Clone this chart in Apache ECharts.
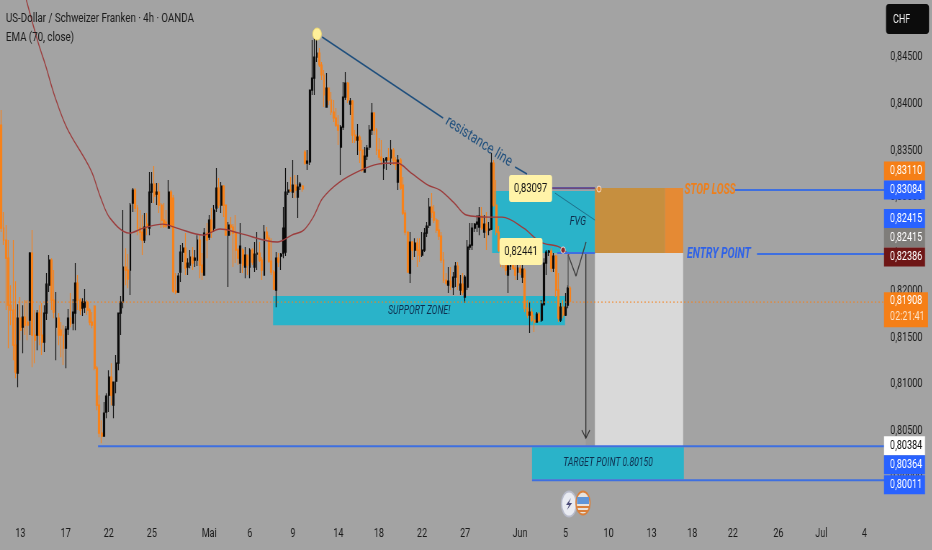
<!DOCTYPE html>
<html><head><meta charset="utf-8">
<style>html,body{margin:0;padding:0;background:#a3a3a3;overflow:hidden;width:932px;height:550px}
#c{width:1294.44px;height:550px;transform:scaleX(0.72);transform-origin:0 0}</style>
<script src="https://cdn.jsdelivr.net/npm/echarts@6/dist/echarts.min.js"></script>
</head><body><div id="c"></div>
<script>
// prices are in 1/100000 CHF. Rows: open, high, low, close
const candles=[
[83772,83933,82628,82670],[82670,82842,82489,82542],[82542,82703,81793,82349],[82349,82542,81386,81846],[81846,82060,81632,81793],
[81793,82542,81258,81418],[81418,82103,81065,81130],[81119,81857,80969,81707],[81707,81932,81472,81579],[81611,81846,81333,81718],
[81718,81900,81526,81632],[81665,81900,81472,81632],[81686,82414,81526,82403],[82403,82649,81183,81526],[81526,81793,81226,81472],
[81526,81793,81365,81761],[81761,81846,81418,81526],[81526,81868,81312,81451],[81451,81846,81344,81761],[81761,82189,81686,82071],
[82060,82382,81986,82328],[82328,82349,81793,81900],[81900,82221,81707,81772],[81611,81986,81258,81707],[81707,81761,81418,81526],
[81579,81665,81290,81526],[81526,81632,81205,81386],[81386,81622,81172,81590],[81590,81804,81526,81707],[81707,81975,81611,81643],
[81654,81911,81579,81772],[81761,82296,81579,82082],[82082,82168,81793,81900],[81900,81921,81740,81793],[81814,81921,81729,81879],
[81825,82018,81761,81879],[81879,81900,81740,81793],[81793,81814,81632,81665],[81665,81772,81600,81632],[81836,81846,81151,81172],
[81172,81194,80723,80776],[80776,80883,80434,80477],[80477,80616,80370,80445],[80445,80809,80445,80691],[80702,80905,80637,80873],
[80883,81151,80702,81076],[81076,81226,80776,80883],[80776,81023,80637,81023],[81033,81312,80905,81226],[81226,81761,81151,81761],
[81761,81943,81526,81879],[81879,82863,81814,82253],[82253,82456,82060,82221],[82221,82392,82028,82125],[82221,82938,81954,82917],
[82938,83098,82842,83077],[83077,83098,82842,82884],[82884,82917,82595,82670],[82670,82863,82542,82628],[82628,82810,82382,82542],
[82542,82831,82510,82681],[82713,82831,82595,82692],[82670,83270,82595,83056],[83056,83270,82938,83141],[83141,83334,82938,83013],
[83034,83152,82917,83056],[83056,83152,82831,82917],[82917,82938,82670,82756],[82756,82938,82670,82692],[82735,82863,82670,82692],
[82670,83184,82670,83056],[83056,83077,82670,82702],[82991,83024,81975,81996],[81996,82189,81964,81986],[81986,82189,81975,82157],
[82200,82489,82093,82414],[82414,82510,82307,82456],[82456,82617,82168,82242],[82253,82349,82168,82296],[82275,82435,82242,82360],
[82360,82467,82221,82296],[82328,82435,82253,82349],[82328,82595,82264,82542],[82542,82595,82135,82275],[82275,82403,82114,82200],
[82168,82670,82168,82617],[82617,82724,82349,82542],[82574,82810,82542,82756],[82756,82884,82564,82628],[82670,82917,82628,82863],
[82884,83312,82842,83098],[83098,83205,82884,82917],[82917,83163,82831,83120],[83120,83131,82788,82917],[82917,82917,82595,82595],
[82595,82735,82039,82703],[82702,82788,82595,82681],[82681,82713,82253,82617],[82617,82810,82296,82435],[82435,82456,82275,82349],
[82296,82724,82189,82478],[82435,82456,82189,82275],[82253,82467,82135,82382],[82382,82382,82168,82275],[82253,82456,82135,82435],
[82435,82456,82275,82307],[82253,82521,82200,82392],[82392,82628,82221,82403],[82403,82521,82307,82328],[82328,82360,82114,82221],
[82168,82703,82168,82628],[82628,82681,82542,82563],[82563,82595,82296,82317],[82317,82563,82168,82200],[82200,82221,82007,82018],
[82007,82414,81825,82349],[82349,82403,82253,82307],[82371,82403,82221,82392],[82403,82895,82349,82670],[82414,83312,82371,83056],
[83056,83163,83024,83077],[83077,83216,83056,83070],[83056,83398,82991,83131],[83131,83238,82991,83077],[83002,83238,82777,83109],
[83120,83163,83077,83141],[83120,83130,83060,83090],[83484,83505,83345,83366],[83366,83505,83291,83387],[83377,84147,83345,84147],
[84147,84682,84094,84275],[84275,84736,84094,84500],[84500,84789,84447,84543],[84543,84596,84393,84415],[84415,84447,84254,84308],
[84308,84361,83965,84094],[83965,84329,83965,84168],[84168,84168,83986,84040],[84040,84126,83880,83912],[83912,84040,83805,83848],
[83848,83954,83751,83772],[83772,83880,83558,83719],[83537,83772,83238,83751],[83751,84233,83719,84072],[84072,84340,84040,84222],
[84222,84233,84008,84040],[83997,84061,83880,84029],[84029,84040,83580,83665],[83665,83719,83580,83612],[83612,83783,83452,83644],
[83644,83665,83366,83505],[83505,83612,83270,83291],[83270,83537,83270,83441],[83441,83559,83398,83526],[83537,83772,83505,83719],
[83719,84008,83665,83901],[83901,83912,83665,83719],[83719,83740,83452,83505],[83505,83634,83398,83430],[83430,83612,83345,83398],
[83312,83420,83184,83398],[83398,83430,83291,83420],[83420,83526,83398,83400],[83420,83612,83345,83505],[83505,83526,83345,83398],
[83398,83430,83291,83345],[83163,83451,83077,83398],[83398,83420,83077,83098],[83130,83216,82810,82831],[82831,82863,82595,82628],
[82628,82628,82200,82200],[82189,82628,82082,82521],[82521,82531,82328,82435],[82435,82563,82360,82510],[82510,82563,82253,82435],
[82435,82563,82307,82382],[82382,82628,82360,82435],[82435,82670,82414,82617],[82617,82735,82574,82692],[82702,82991,82670,82895],
[82895,83045,82777,82842],[82842,82917,82724,82756],[82756,82777,82617,82649],[82649,82756,82542,82585],[82585,82628,82296,82328],
[82328,82414,82082,82114],[82114,82189,82060,82082],[82060,82253,81975,82103],[82103,82253,82007,82050],[82039,82200,81954,82146],
[82146,82307,82039,82264],[82264,82307,82007,82060],[82007,82168,81954,82071],[82071,82189,81954,81986],[81932,82168,81868,82146],
[82039,82542,82007,82467],[82467,82724,82435,82489],[82489,82724,82435,82670],[82670,82724,82628,82713],[82713,82810,82628,82735],
[82681,82895,82595,82799],[82799,82895,82649,82670],[82628,82810,82564,82713],[82713,82842,82435,82649],[82649,82735,82595,82660],
[82660,83473,82649,83366],[83366,83398,82895,82917],[82917,83184,82595,82628],[82628,82692,82414,82435],[82435,82456,82253,82307],
[82307,82435,82242,82285],[82285,82349,82168,82221],[82168,82382,81975,82264],[82264,82435,82221,82349],[82349,82349,82221,82242],
[82242,82307,82114,82168],[82200,82307,82114,82242],[82242,82285,82168,82200],[82146,82307,82082,82232],[82221,82242,81772,81814],
[81814,81900,81707,81740],[81740,81879,81547,81772],[81772,81814,81665,81686],[81686,81740,81558,81665],[81665,81772,81665,81750],
[81750,81772,81665,81686],[81686,81900,81665,81857],[81857,82349,81836,82296],[82296,82435,82168,82414],[82414,82435,82371,82425],
[82425,82456,82200,82242],[82242,82403,82200,82371],[82371,82382,81932,82007],[82007,82189,81665,81707],[81686,81868,81665,81825],
[81825,81900,81707,81740],[81740,81975,81729,81825],[81846,82060,81814,82028],[82028,82050,81879,81889]];
// EMA(70): bar position, price
const ema=[[11,85110],[16,84650],[19,84415],[23,84072],[28,83740],[38,83291],[42,83002],[46,82777],[54,82617],[60,82670],[68,82713],[74,82670],[85,82595],[92,82660],[100,82617],[116,82521],[122,82595],[127,82649],[131,82788],[135,82991],[142,83163],[151,83291],[158,83355],[166,83366],[172,83259],[179,83131],[184,83077],[190,82938],[195,82810],[205,82788],[210,82788],[219,82670],[226,82521],[234,82467],[238,82382]];
const barCount=370;
const tickLabels={8:'13',27:'17',45:'22',63:'25',87:'Mai',104:'6',122:'9',141:'14',158:'18',176:'22',194:'27',217:'Jun',236:'5',254:'10',272:'13',289:'18',306:'22',325:'26',343:'Jul',361:'4'};
const categories=Array.from({length:barCount},(_,i)=>tickLabels[i]||'');
// annotation geometry in bar position / price
const fvgZone=[[205.8,83066,248.8,82403]];
const supportZone=[[114.2,81943,236.3,81632]];
const targetZone=[[222.5,80327,286,79985]];
const stopInner=[[248.8,83098,278.1,82403]];
const stopOuter=[[278.1,83098,285.7,82403]];
const profitZone=[[248.8,82403,285.7,80338]];
const profitStrip=[[245,82403,248.8,80338]];
const resistanceA=[[134.7,84714],[185.3,83847]];
const resistanceB=[[215.4,83323],[220.4,83248]];
const resistanceC=[[232.1,83045],[248.8,82756]];
const stopLineL=[[230.9,83098],[248.8,83098]];
const stopLineR=[[307.4,83077],[370,83077]];
const entryLineL=[[233,82403],[248.8,82403]];
const entryLineR=[[316.6,82393],[370,82393]];
const lowLine=[[41,80338],[370,80338]];
const bottomLine=[[222.5,79974],[370,79974]];
const priceLine=[[0,81879],[370,81879]];
const zigzag=[[237.6,82382],[240.9,82157],[245.1,82521]];
const zigzagDrop=[[237.6,82382],[237.6,82039]];
const arrow=[[245,82393,80423]];
const dots=[[132.6,84746,'sun'],[250.5,83088,'stop'],[235.5,82435,'entry']];
const pills=[[221.9,83093,'0,83097'],[217.9,82419,'0,82441']];
const notes=[[175.3,81788,'SUPPORT ZONE!','n'],[254.3,80156,'TARGET POINT 0.80150','n'],[241.7,82736,'FVG','f'],[286.2,83077,'STOP LOSS','s'],[287.3,82393,'ENTRY POINT','e'],[200.3,83592,'resistance line','r']];
const tags=[['0,83110',83280,'#f57f17','#fff'],['0,83084',83077,'#2962ff','#fff'],['0,82415',82772,'#2962ff','#fff'],['0,82415',82569,'#7f7d7a','#fff'],['0,82386',82360,'#6e1616','#fff'],['0,80384',80343,'#ffffff','#111'],['0,80364',80140,'#2962ff','#fff'],['0,80011',79926,'#2962ff','#fff']];
const liveTag=[['0,81908','02:21:41',81798]];

const S=0.72;                 // the reference is horizontally squeezed
const X=p=>p/S;               // screen px -> canvas px
const F='Roboto,sans-serif';
function overlay(rows,z,draw){return{type:'custom',xAxisIndex:1,yAxisIndex:0,z,silent:true,clip:false,animation:false,
  data:rows.map((_,i)=>[i,80000]),renderItem:(p,api)=>draw(rows[p.dataIndex],api,p)};}
function zone(rows,fill,z){return overlay(rows,z===undefined?1:z,(r,api)=>{
  const a=api.coord([r[0],r[1]]),b=api.coord([r[2],r[3]]);
  return{type:'rect',shape:{x:a[0],y:a[1],width:b[0]-a[0],height:b[1]-a[1]},style:{fill}};});}
function line(pts,color,width,z,extra){return Object.assign({type:'line',xAxisIndex:1,yAxisIndex:0,data:pts,symbol:'none',silent:true,animation:false,z,
  lineStyle:{color,width}},extra||{});}

const series=[
 zone(profitStrip,'#9a9a9a',1),
 zone(fvgZone,'#2ab3c9',1),
 zone(supportZone,'#2ab3c9',1),
 zone(targetZone,'#2ab3c9',1),
 zone(profitZone,'#d9d9d9',1),
 zone(stopInner,'#c68f3f',1),
 zone(stopOuter,'#e58a34',1),
 {type:'candlestick',xAxisIndex:0,yAxisIndex:0,z:3,silent:true,animation:false,barWidth:2.4,
  data:candles.map(c=>[c[0],c[3],c[2],c[1]]),
  itemStyle:{color:'#0b0b0b',color0:'#f7821b',borderColor:'#0b0b0b',borderColor0:'#f7821b',borderWidth:1.2}},
 line(ema,'#9c3d3d',1.4,4,{smooth:0.35}),
 line(resistanceA,'#1f4f7d',1.7,5),line(resistanceB,'#1f4f7d',1.7,5),line(resistanceC,'#1f6f8a',1,5),
 line(stopLineL,'#4a6fd8',2.4,5),line(stopLineL,'#8a2f3a',1,6),
 line(stopLineR,'#3e6fe0',2,5),line(entryLineL,'#3e6fe0',2,5),line(entryLineR,'#3e6fe0',2,5),
 line(lowLine,'#3e6fe0',2,5),line(bottomLine,'#3e6fe0',2,5),
 line(priceLine,'#f7821b',1,5,{lineStyle:{color:'#f7821b',width:1,type:[2,3]}}),
 line(zigzag,'#3d3d3d',1.4,6),line(zigzagDrop,'#5a5a5a',1.4,6),
 overlay(arrow,6,(r,api)=>{const a=api.coord([r[0],r[1]]),b=api.coord([r[0],r[2]]);
  return{type:'polyline',shape:{points:[[a[0],a[1]],[b[0],b[1]]]},style:{stroke:'#333',lineWidth:1.4,fill:null}};}),
 overlay(arrow,6,(r,api)=>{const b=api.coord([r[0],r[2]]);
  return{type:'polyline',shape:{points:[[b[0]-X(4),b[1]-8],[b[0],b[1]],[b[0]+X(4),b[1]-8]]},style:{stroke:'#333',lineWidth:1.2,fill:null}};}),
 overlay(dots,7,(r,api)=>{const c=api.coord([r[0],r[1]]);
  const st={sun:{r:6,fill:'#fff09a',stroke:'#f3dc70'},stop:{r:3,fill:'#e58a34',stroke:'#f2e6da'},entry:{r:3.2,fill:'#8b2a2a',stroke:'#f0e4e4'}}[r[2]];
  return{type:'circle',shape:{cx:c[0],cy:c[1],r:st.r},style:{fill:st.fill,stroke:st.stroke,lineWidth:1}};}),
 overlay(pills,8,(r,api)=>{const c=api.coord([r[0],r[1]]);
  return{type:'group',children:[
   {type:'rect',shape:{x:c[0]-X(21.5),y:c[1]-13.5,width:X(43),height:27,r:3},style:{fill:'#fff3a8'}},
   {type:'text',x:c[0],y:c[1],style:{text:r[2],fill:'#141414',font:'13px '+F,align:'center',verticalAlign:'middle'}}]};}),
 overlay(notes,8,(r,api)=>{const c=api.coord([r[0],r[1]]);
  const st={n:{font:'italic 12px '+F,fill:'#0f2f4f',align:'center'},f:{font:'italic 12.5px '+F,fill:'#0f2f4f',align:'center'},
    s:{font:'italic bold 14px '+F,fill:'#ef7f1a',align:'left'},e:{font:'italic bold 14.5px '+F,fill:'#2f62e8',align:'left'},
    r:{font:'italic 16px '+F,fill:'#1f4f7d',align:'center'}}[r[3]];
  return{type:'text',x:c[0],y:c[1],rotation:r[3]==='r'?-0.447:0,style:{text:r[2],fill:st.fill,font:st.font,align:st.align,verticalAlign:'middle'}};}),
 overlay(tags,10,(r,api)=>{const c=api.coord([0,r[1]]);
  return{type:'group',children:[
   {type:'rect',shape:{x:X(884),y:c[1]-9.5,width:X(41),height:19},style:{fill:r[2]}},
   {type:'text',x:X(890),y:c[1],style:{text:r[0],fill:r[3],font:'12.5px '+F,align:'left',verticalAlign:'middle'}}]};}),
 overlay(liveTag,10,(r,api)=>{const c=api.coord([0,r[2]]);
  return{type:'group',children:[
   {type:'rect',shape:{x:X(884),y:c[1]-17.5,width:X(44),height:35},style:{fill:'#f57f17'}},
   {type:'text',x:X(890),y:c[1]-9,style:{text:r[0],fill:'#fff',font:'12.5px '+F,align:'left',verticalAlign:'middle'}},
   {type:'text',x:X(890),y:c[1]+7,style:{text:r[1],fill:'#fde3c8',font:'12.5px '+F,align:'left',verticalAlign:'middle'}}]};})
];

const chart=echarts.init(document.getElementById('c'),null,{renderer:'canvas',width:X(932),height:550});
chart.setOption({
 backgroundColor:'#a3a3a3',animation:false,
 grid:{left:0,top:0,width:X(884.7),height:524.5,containLabel:false,show:false,outerBoundsMode:'none'},
 xAxis:[
  {type:'category',data:categories,boundaryGap:true,axisLine:{show:false},axisTick:{show:false},splitLine:{show:false},
   axisLabel:{interval:(i,v)=>v!=='',margin:3,color:'#1a1a1a',fontFamily:F,fontSize:12.5,hideOverlap:false,showMinLabel:true,showMaxLabel:true}},
  {type:'value',min:0,max:barCount,show:false,splitLine:{show:false}}],
 yAxis:{type:'value',position:'right',min:79500,max:85110,interval:500,scale:true,axisLine:{show:false},axisTick:{show:false},splitLine:{show:false},
  axisLabel:{margin:X(5.5),color:'#1a1a1a',fontFamily:F,fontSize:12.5,showMinLabel:false,showMaxLabel:false,
   formatter:v=>(v/100000).toFixed(5).replace('.',',')}},
 series,
 graphic:[
  {type:'text',left:X(6),top:12,z:20,style:{text:'US-Dollar / Schweizer Franken · 4h · OANDA',fill:'#1c1c1c',font:'13.5px '+F}},
  {type:'text',left:X(6),top:31,z:20,style:{text:'EMA (70, close)',fill:'#1c1c1c',font:'13.5px '+F}},
  {type:'rect',left:X(886),top:4,z:20,shape:{width:X(43),height:30,r:4},style:{fill:'#0c0c0c'}},
  {type:'text',left:X(893),top:13,z:21,style:{text:'CHF',fill:'#f0f0f0',font:'12.5px '+F}},
  {type:'ellipse',z:20,shape:{cx:X(569),cy:504,rx:X(7.5),ry:12.5},style:{fill:'#e9ebf2',stroke:'#b9bccb',lineWidth:1.8}},
  {type:'polygon',z:21,shape:{points:[[X(571),498],[X(566),505],[X(569),505],[X(567),510],[X(572),503],[X(569),503]]},style:{fill:'#4a4a78'}},
  {type:'ellipse',z:20,shape:{cx:X(583),cy:503,rx:X(7),ry:11.5},style:{fill:'#e7e3de',stroke:'#d9803c',lineWidth:1.8}},
  {type:'rect',z:21,shape:{x:X(577),y:497,width:X(12),height:7},style:{fill:'#5f95d8'}},
  {type:'rect',z:21,shape:{x:X(577),y:506,width:X(12),height:2},style:{fill:'#d9803c'}},
  {type:'rect',z:21,shape:{x:X(578),y:510,width:X(10),height:2},style:{fill:'#d9803c'}}
 ]
});
</script></body></html>
